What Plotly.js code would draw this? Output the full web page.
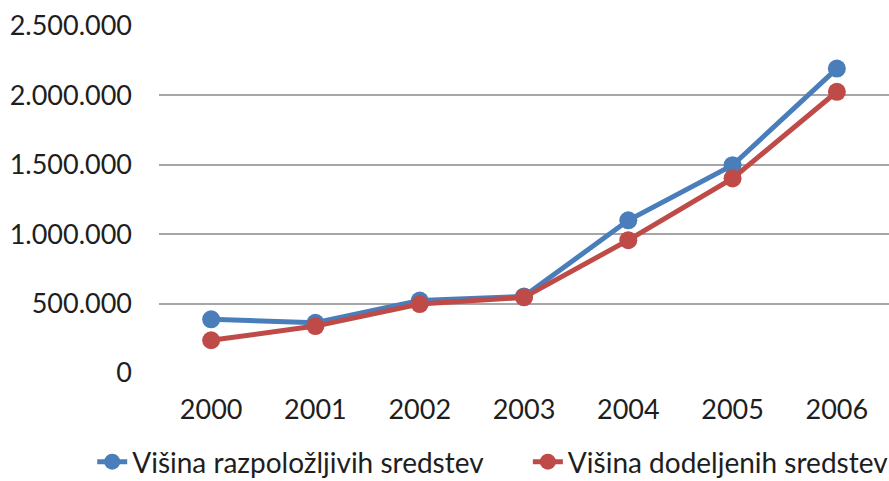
<!DOCTYPE html>
<html>
<head>
<meta charset="utf-8">
<script src="https://cdn.plot.ly/plotly-3.0.1.min.js"></script>
<style>html,body{margin:0;padding:0;background:#fff;}#chart{width:889px;height:481px;}</style>
</head>
<body>
<div id="chart"></div>
<script>
const years = ['2000', '2001', '2002', '2003', '2004', '2005', '2006'];
const razpolozljiva = [387000, 362000, 522000, 552000, 1100000, 1497000, 2193000];
const dodeljena = [236000, 338000, 497000, 545000, 957000, 1402000, 2026000];
const seriesNames = ['Višina razpoložljivih sredstev', 'Višina dodeljenih sredstev'];
const yTicks = [0, 500000, 1000000, 1500000, 2000000, 2500000];

const font = 'Lato, "Open Sans", sans-serif';
const ink = '#1e1e1e';
const traces = [
  {x: years, y: razpolozljiva, name: seriesNames[0], type: 'scatter', mode: 'lines+markers', legend: 'legend',
   line: {color: '#4A7EBB', width: 5}, marker: {color: '#4A7EBB', size: 18}},
  {x: years, y: dodeljena, name: seriesNames[1], type: 'scatter', mode: 'lines+markers', legend: 'legend2',
   line: {color: '#BE4B48', width: 5}, marker: {color: '#BE4B48', size: 18}}
];
const legendBase = {orientation: 'h', xref: 'paper', yref: 'paper', y: -0.2565,
  xanchor: 'left', yanchor: 'middle', font: {family: font, size: 28, color: ink}, bgcolor: 'rgba(0,0,0,0)'};
const layout = {
  width: 889, height: 481,
  margin: {l: 159, r: 0, t: 26, b: 108, autoexpand: false},
  paper_bgcolor: '#fff', plot_bgcolor: '#fff',
  separators: ',.',
  font: {family: font, size: 27, color: ink},
  showlegend: true,
  legend: Object.assign({}, legendBase, {x: -0.0915}),
  legend2: Object.assign({}, legendBase, {x: 0.5053}),
  xaxis: {type: 'category', range: [-0.5, 6.5], showgrid: false, zeroline: false, showline: false,
          ticks: '', ticklabelstandoff: 18, tickfont: {family: font, size: 27, color: ink}},
  yaxis: {range: [0, 2500000], tickvals: yTicks, tickformat: ',d', showgrid: true,
          gridcolor: '#A6A6A6', gridwidth: 2, zeroline: false, showline: false, ticks: '',
          ticklabelstandoff: 26, tickfont: {family: font, size: 27, color: ink}}
};
Plotly.newPlot('chart', traces, layout, {displayModeBar: false, staticPlot: true});
</script>
</body>
</html>
